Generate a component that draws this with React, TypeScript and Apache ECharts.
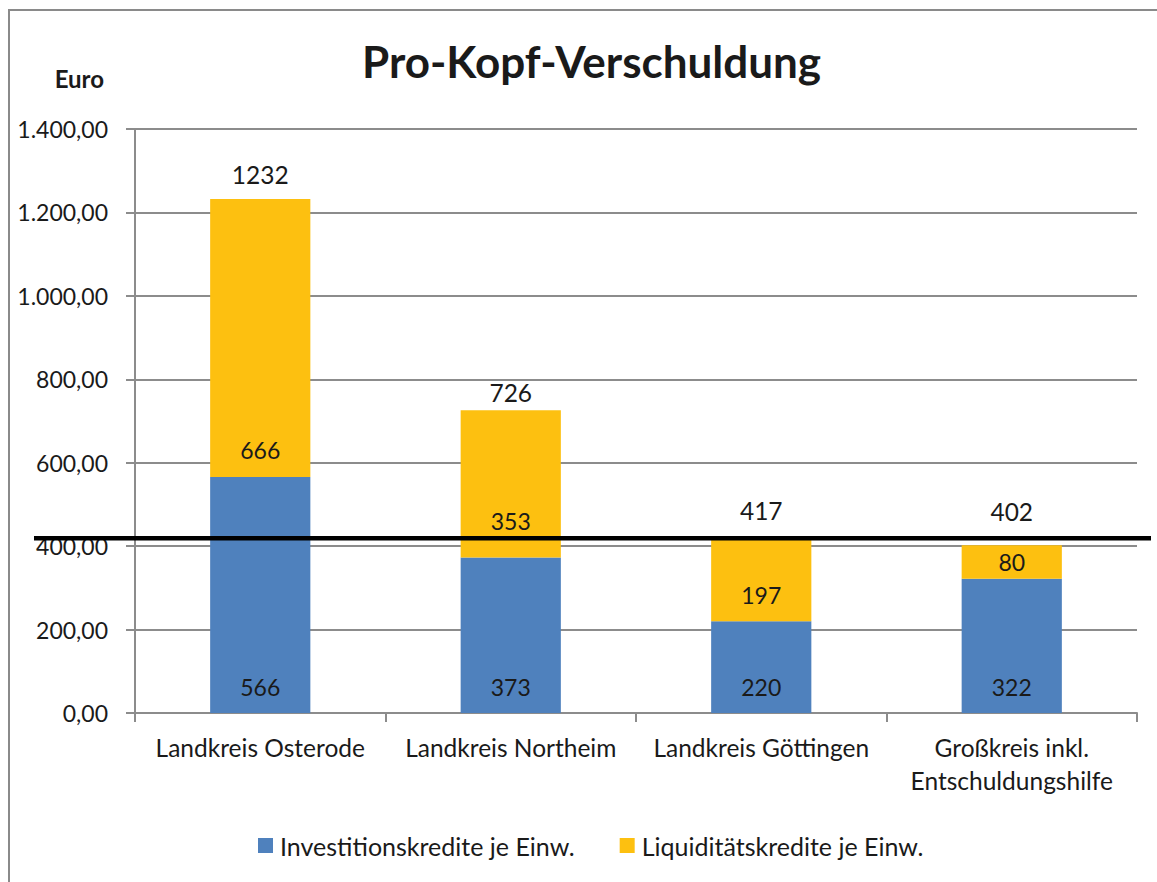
import React, { useEffect, useRef } from "react";
import * as echarts from "echarts";

const categories = [
  "Landkreis Osterode",
  "Landkreis Northeim",
  "Landkreis Göttingen",
  "Großkreis inkl.\nEntschuldungshilfe",
];
const investitionskredite = [566, 373, 220, 322];
const liquiditaetskredite = [666, 353, 197, 80];
const totals = [1232, 726, 417, 402];
const yTicks = { min: 0, max: 1400, interval: 200 };
const threshold = 419;

// manual label nudges (style only, in pixels)
const liqLabelNudge = [0, -10, 0, 0];
const totalLabelNudge = [0, 7, -4, -9];

const FONT = "Lato";
const BLUE = "#4F81BD";
const GOLD = "#FDC010";
const GRAYLINE = "#8C8C8C";
const TEXT = "#1a1a1a";

function fmtDE(v: number): string {
  const fixed = v.toFixed(2);
  const [intPart, dec] = fixed.split(".");
  const withDots = intPart.replace(/\B(?=(\d{3})+(?!\d))/g, ".");
  return withDots + "," + dec;
}

export default function App() {
  const ref = useRef<HTMLDivElement>(null);
  useEffect(() => {
    if (!ref.current) return;
    const chart = echarts.init(ref.current, null, { renderer: "svg" });
    const labelText = { color: TEXT, fontFamily: FONT, fontSize: 23, opacity: 1 };
    chart.setOption({
      animation: false,
      backgroundColor: "#fff",
      title: [
        {
          text: "Pro-Kopf-Verschuldung",
          left: 357,
          top: 34,
          textStyle: { fontFamily: FONT, fontWeight: "bold", fontSize: 44, color: TEXT },
        },
        {
          text: "Euro",
          right: 1157 - 109,
          top: 61,
          textStyle: { fontFamily: FONT, fontWeight: "bold", fontSize: 24, color: TEXT },
        },
      ],
      grid: { left: 135, right: 20, top: 129, bottom: 169 },
      legend: {
        bottom: 19,
        left: 253,
        icon: "rect",
        itemWidth: 15,
        itemHeight: 15,
        itemGap: 45,
        textStyle: { fontFamily: FONT, fontSize: 25, color: TEXT, padding: [0, 0, 0, 2] },
        data: ["Investitionskredite je Einw.", "Liquiditätskredite je Einw."],
      },
      xAxis: {
        type: "category",
        data: categories,
        axisLine: { lineStyle: { color: GRAYLINE, width: 2 } },
        axisTick: { show: true, length: 9, lineStyle: { color: GRAYLINE, width: 2 } },
        axisLabel: {
          fontFamily: FONT,
          fontSize: 24.5,
          color: TEXT,
          margin: 18,
          lineHeight: 33,
          interval: 0,
        },
      },
      yAxis: {
        type: "value",
        min: yTicks.min,
        max: yTicks.max,
        interval: yTicks.interval,
        axisLine: { show: true, lineStyle: { color: GRAYLINE, width: 2 } },
        axisTick: { show: true, length: 9, lineStyle: { color: GRAYLINE, width: 2 } },
        splitLine: { lineStyle: { color: GRAYLINE, width: 2 } },
        axisLabel: {
          fontFamily: FONT,
          fontSize: 23,
          color: TEXT,
          margin: 27,
          formatter: (v: number) => fmtDE(v),
        },
      },
      series: [
        {
          name: "Investitionskredite je Einw.",
          type: "bar",
          stack: "total",
          barWidth: "40%",
          itemStyle: { color: BLUE },
          data: investitionskredite,
          label: { show: true, position: "insideBottom", distance: 15, ...labelText },
        },
        {
          name: "Liquiditätskredite je Einw.",
          type: "bar",
          stack: "total",
          barWidth: "40%",
          itemStyle: { color: GOLD },
          data: liquiditaetskredite.map((v, i) => ({
            value: v,
            label: {
              position: v < 120 ? "inside" : "insideBottom",
              offset: [0, liqLabelNudge[i]],
            },
          })),
          label: { show: true, position: "insideBottom", distance: 15, ...labelText },
        },
        {
          name: "Summe",
          type: "scatter",
          symbolSize: 0,
          itemStyle: { opacity: 1 },
          data: totals.map((v, i) => ({
            value: v,
            label: { offset: [0, totalLabelNudge[i]] },
          })),
          label: {
            show: true,
            position: "top",
            distance: 12,
            ...labelText,
            fontSize: 24.5,
            formatter: (p: any) => String(p.value),
          },
          tooltip: { show: false },
        },
      ],
    });
    const y = chart.convertToPixel({ yAxisIndex: 0 }, threshold) as number;
    chart.setOption({
      graphic: [
        {
          type: "rect",
          shape: { x: 9, y: 10, width: 1300, height: 1000 },
          style: { fill: "none", stroke: "#8a8a8a", lineWidth: 2 },
          silent: true,
        },
        {
          type: "line",
          shape: { x1: 34, y1: y, x2: 1151, y2: y },
          style: { stroke: "#000", lineWidth: 4.5 },
          z: 100,
        },
      ],
    });
    return () => chart.dispose();
  }, []);
  return (
    <div
      ref={ref}
      style={{ position: "absolute", left: 0, top: 0, width: 1157, height: 882 }}
    />
  );
}
